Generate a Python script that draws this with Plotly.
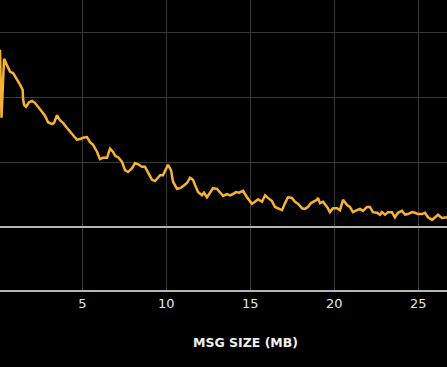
import plotly.graph_objects as go

msg_size_mb = [0.10, 0.19, 0.34, 0.50, 0.70, 0.88, 1.11, 1.29, 1.45, 1.47, 1.53, 1.65, 1.83, 2.01, 2.18, 2.36,
               2.60, 2.78, 2.96, 3.20, 3.32, 3.49, 3.67, 3.85, 4.09, 4.27, 4.45, 4.68, 4.86, 5.04, 5.28, 5.46,
               5.64, 5.88, 6.05, 6.23, 6.47, 6.65, 6.83, 6.95, 7.13, 7.36, 7.54, 7.72, 7.96, 8.14, 8.32, 8.55,
               8.73, 8.91, 9.15, 9.33, 9.45, 9.63, 9.80, 10.10, 10.28, 10.40, 10.64, 10.82, 10.99, 11.23, 11.41,
               11.59, 11.71, 11.89, 12.12, 12.24, 12.42, 12.60, 12.78, 13.02, 13.20, 13.38, 13.61, 13.79, 13.97,
               14.15, 14.33, 14.57, 14.80, 15.10, 15.28, 15.46, 15.70, 15.88, 16.05, 16.29, 16.47, 16.65, 16.89,
               17.07, 17.24, 17.48, 17.66, 17.84, 18.08, 18.26, 18.43, 18.61, 18.79, 18.97, 19.03, 19.15, 19.33,
               19.57, 19.74, 19.92, 20.16, 20.34, 20.52, 20.76, 20.93, 21.11, 21.35, 21.53, 21.71, 21.95, 22.12,
               22.30, 22.54, 22.72, 22.84, 23.02, 23.20, 23.43, 23.61, 23.79, 24.03, 24.21, 24.39, 24.62, 24.80,
               24.98, 25.22, 25.40, 25.58, 25.82, 26.00, 26.17, 26.41, 26.59, 26.71]

values = [2.74, 1.69, 2.60, 2.50, 2.40, 2.38, 2.29, 2.20, 2.12, 1.99, 1.89, 1.86, 1.93, 1.95, 1.92, 1.86,
          1.79, 1.72, 1.62, 1.59, 1.61, 1.73, 1.65, 1.61, 1.53, 1.48, 1.42, 1.35, 1.36, 1.38, 1.39, 1.31,
          1.27, 1.16, 1.05, 1.07, 1.07, 1.21, 1.16, 1.10, 1.08, 1.01, 0.88, 0.85, 0.91, 0.99, 0.97, 0.93,
          0.93, 0.84, 0.73, 0.71, 0.74, 0.80, 0.80, 0.96, 0.88, 0.70, 0.59, 0.60, 0.63, 0.68, 0.76,
          0.73, 0.65, 0.54, 0.49, 0.53, 0.46, 0.53, 0.60, 0.59, 0.54, 0.48, 0.51, 0.49, 0.51,
          0.54, 0.53, 0.56, 0.46, 0.36, 0.39, 0.43, 0.39, 0.49, 0.45, 0.40, 0.31, 0.29, 0.26,
          0.37, 0.46, 0.45, 0.39, 0.36, 0.29, 0.28, 0.31, 0.37, 0.40, 0.42, 0.45, 0.37, 0.39,
          0.31, 0.23, 0.29, 0.29, 0.26, 0.42, 0.34, 0.31, 0.23, 0.26, 0.28, 0.25, 0.31, 0.31,
          0.23, 0.22, 0.19, 0.23, 0.19, 0.23, 0.23, 0.15, 0.22, 0.25, 0.19, 0.20, 0.23, 0.22,
          0.20, 0.20, 0.22, 0.15, 0.11, 0.15, 0.19, 0.14, 0.14, 0.15]

x_ticks = [5, 10, 15, 20, 25]
x_title = "MSG SIZE (MB)"

fig = go.Figure()
fig.add_trace(go.Scatter(x=msg_size_mb, y=values, mode="lines",
                         line=dict(color="#F6B234", width=2.5), showlegend=False))

fig.update_layout(
    width=447, height=367,
    paper_bgcolor="black", plot_bgcolor="black",
    margin=dict(l=0, r=0, t=0, b=77),
    font=dict(family="DejaVu Sans", color="#e6e6e6", size=12),
    xaxis=dict(range=[0.10, 26.71], tickvals=x_ticks, showgrid=True, gridcolor="#383838", gridwidth=1,
               zeroline=False, showline=True, linecolor="#b5b5b5", linewidth=2,
               ticks="", tickfont=dict(size=13, color="#e6e6e6", family="DejaVu Sans")),
    yaxis=dict(range=[-0.974, 3.51], dtick=1, showgrid=True, gridcolor="#383838", gridwidth=1,
               zeroline=True, zerolinecolor="#b5b5b5", zerolinewidth=2, showticklabels=False),
    annotations=[dict(text="<b>" + x_title + "</b>", xref="paper", yref="paper",
                      x=0.55, y=-0.182, xanchor="center", yanchor="middle", showarrow=False,
                      font=dict(size=12.5, color="#f0f0f0", family="DejaVu Sans"))],
)

fig.write_html("out.html", config={"displayModeBar": False},
               post_script="document.body.style.margin='0';document.body.style.background='black';")
